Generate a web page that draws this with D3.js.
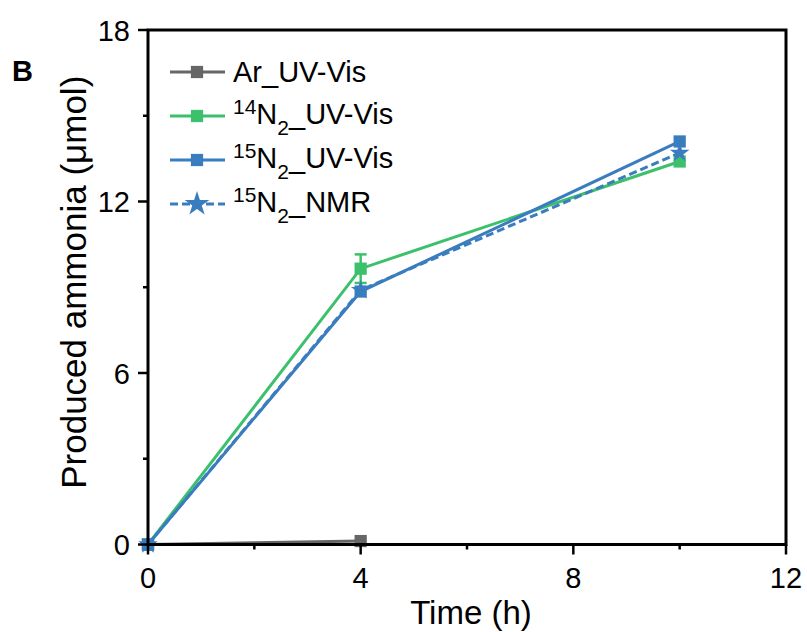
<!DOCTYPE html>
<html>
<head>
<meta charset="utf-8">
<script src="https://cdn.jsdelivr.net/npm/d3@7"></script>
<style>
  body { margin: 0; background: #fff; }
  text { font-family: "Liberation Sans", Arial, sans-serif; fill: #000; }
</style>
</head>
<body>
<div id="canvas"></div>
<script>
  // data
  var timeAr = [0, 4];
  var valAr = [0, 0.12];
  var time14 = [0, 4, 10];
  var val14 = [0, 9.65, 13.4];
  var err14 = [0, 0.5, 0];
  var time15 = [0, 4, 10];
  var val15 = [0, 8.85, 14.1];
  var timeNmr = [0, 4, 10];
  var valNmr = [0, 8.9, 13.7];

  var xTicks = [0, 4, 8, 12];
  var xMinor = [2, 6, 10];
  var yTicks = [0, 6, 12, 18];
  var yMinor = [3, 9, 15];

  var series = [
    { sup: "", sub: "", rest: "Ar_UV-Vis", t: timeAr, v: valAr, e: null, color: "#666666", symbol: d3.symbolSquare, dash: null },
    { sup: "14", sub: "2", rest: "_UV-Vis", t: time14, v: val14, e: err14, color: "#3dc06c", symbol: d3.symbolSquare, dash: null },
    { sup: "15", sub: "2", rest: "_UV-Vis", t: time15, v: val15, e: null, color: "#3a7dbf", symbol: d3.symbolSquare, dash: null },
    { sup: "15", sub: "2", rest: "_NMR", t: timeNmr, v: valNmr, e: null, color: "#3a7dbf", symbol: d3.symbolStar, dash: "8,4" }
  ];

  var width = 807, height = 632;
  var margin = {top: 30, right: 21, bottom: 87.5, left: 148};

  var svg = d3.select("#canvas").append("svg")
    .attr("width", width)
    .attr("height", height);

  var x = d3.scaleLinear().domain([0, 12]).range([margin.left, width - margin.right]);
  var y = d3.scaleLinear().domain([0, 18]).range([height - margin.bottom, margin.top]);

  // plot lines first, axes on top
  var plot = svg.append("g");

  series.forEach(function(s) {
    var pts = s.t.map(function(t, i) { return [t, s.v[i], s.e ? s.e[i] : 0]; });
    var line = d3.line().x(function(d) { return x(d[0]); }).y(function(d) { return y(d[1]); });
    plot.append("path")
      .datum(pts)
      .attr("d", line)
      .attr("fill", "none")
      .attr("stroke", s.color)
      .attr("stroke-width", 3)
      .attr("stroke-dasharray", s.dash);

    // error bars
    if (s.e) {
      pts.forEach(function(d) {
        if (d[2] <= 0) return;
        var g = plot.append("g").attr("stroke", s.color).attr("stroke-width", 2.5);
        g.append("line").attr("x1", x(d[0])).attr("x2", x(d[0])).attr("y1", y(d[1] - d[2])).attr("y2", y(d[1] + d[2]));
        g.append("line").attr("x1", x(d[0]) - 6).attr("x2", x(d[0]) + 6).attr("y1", y(d[1] + d[2])).attr("y2", y(d[1] + d[2]));
        g.append("line").attr("x1", x(d[0]) - 6).attr("x2", x(d[0]) + 6).attr("y1", y(d[1] - d[2])).attr("y2", y(d[1] - d[2]));
      });
    }

    plot.selectAll(null)
      .data(pts)
      .enter().append("path")
      .attr("transform", function(d) { return "translate(" + x(d[0]) + "," + y(d[1]) + ")"; })
      .attr("d", d3.symbol().type(s.symbol).size(s.symbol === d3.symbolStar ? 120 : 150))
      .attr("fill", s.color);
  });

  // axes
  var x0 = margin.left, x1 = width - margin.right, y0 = height - margin.bottom, y1 = margin.top;
  var axisG = svg.append("g").attr("stroke", "#000").attr("stroke-width", 3);
  axisG.append("rect")
    .attr("x", x0).attr("y", y1).attr("width", x1 - x0).attr("height", y0 - y1)
    .attr("fill", "none");

  axisG.selectAll(".xt").data(xTicks).enter().append("line")
    .attr("x1", function(d) { return x(d); }).attr("x2", function(d) { return x(d); })
    .attr("y1", y0).attr("y2", y0 + 10).attr("stroke-width", 2.5);
  axisG.selectAll(".xm").data(xMinor).enter().append("line")
    .attr("x1", function(d) { return x(d); }).attr("x2", function(d) { return x(d); })
    .attr("y1", y0).attr("y2", y0 + 5).attr("stroke-width", 2.5);
  axisG.selectAll(".yt").data(yTicks).enter().append("line")
    .attr("y1", function(d) { return y(d); }).attr("y2", function(d) { return y(d); })
    .attr("x1", x0).attr("x2", x0 - 10).attr("stroke-width", 2.5);
  axisG.selectAll(".ym").data(yMinor).enter().append("line")
    .attr("y1", function(d) { return y(d); }).attr("y2", function(d) { return y(d); })
    .attr("x1", x0).attr("x2", x0 - 5).attr("stroke-width", 2.5);

  svg.selectAll(".xl").data(xTicks).enter().append("text")
    .attr("x", function(d) { return x(d); })
    .attr("y", y0 + 43)
    .attr("text-anchor", "middle")
    .style("font-size", "29px")
    .text(function(d) { return d; });

  svg.selectAll(".yl").data(yTicks).enter().append("text")
    .attr("x", x0 - 18)
    .attr("y", function(d) { return y(d) + 10.5; })
    .attr("text-anchor", "end")
    .style("font-size", "29px")
    .text(function(d) { return d; });

  svg.append("text")
    .attr("x", (x0 + x1) / 2 + 4)
    .attr("y", 624)
    .attr("text-anchor", "middle")
    .style("font-size", "33px")
    .text("Time (h)");

  svg.append("text")
    .attr("transform", "translate(86," + ((y0 + y1) / 2 - 5) + ") rotate(-90)")
    .attr("text-anchor", "middle")
    .style("font-size", "35px")
    .text("Produced ammonia (μmol)");

  svg.append("text")
    .attr("x", 12).attr("y", 81)
    .style("font-size", "29px")
    .style("font-weight", "bold")
    .text("B");

  // legend
  var legend = svg.append("g");
  series.forEach(function(s, i) {
    var ly = 72 + i * 44;
    legend.append("line")
      .attr("x1", 170).attr("x2", 225).attr("y1", ly).attr("y2", ly)
      .attr("stroke", s.color).attr("stroke-width", 3)
      .attr("stroke-dasharray", s.dash);
    legend.append("path")
      .attr("transform", "translate(197," + ly + ")")
      .attr("d", d3.symbol().type(s.symbol).size(s.symbol === d3.symbolStar ? 190 : 150))
      .attr("fill", s.color);
    var t = legend.append("text")
      .attr("x", 233)
      .style("font-size", "29px");
    if (s.sup) {
      t.attr("y", ly + 8);
      t.append("tspan").attr("dy", -10).style("font-size", "21px").text(s.sup);
      t.append("tspan").attr("dy", 10).text("N");
      t.append("tspan").attr("dy", 11).style("font-size", "21px").text(s.sub);
      t.append("tspan").attr("dy", -11).text(s.rest);
    } else {
      t.attr("y", ly + 10).text(s.rest);
    }
  });
</script>
</body>
</html>
